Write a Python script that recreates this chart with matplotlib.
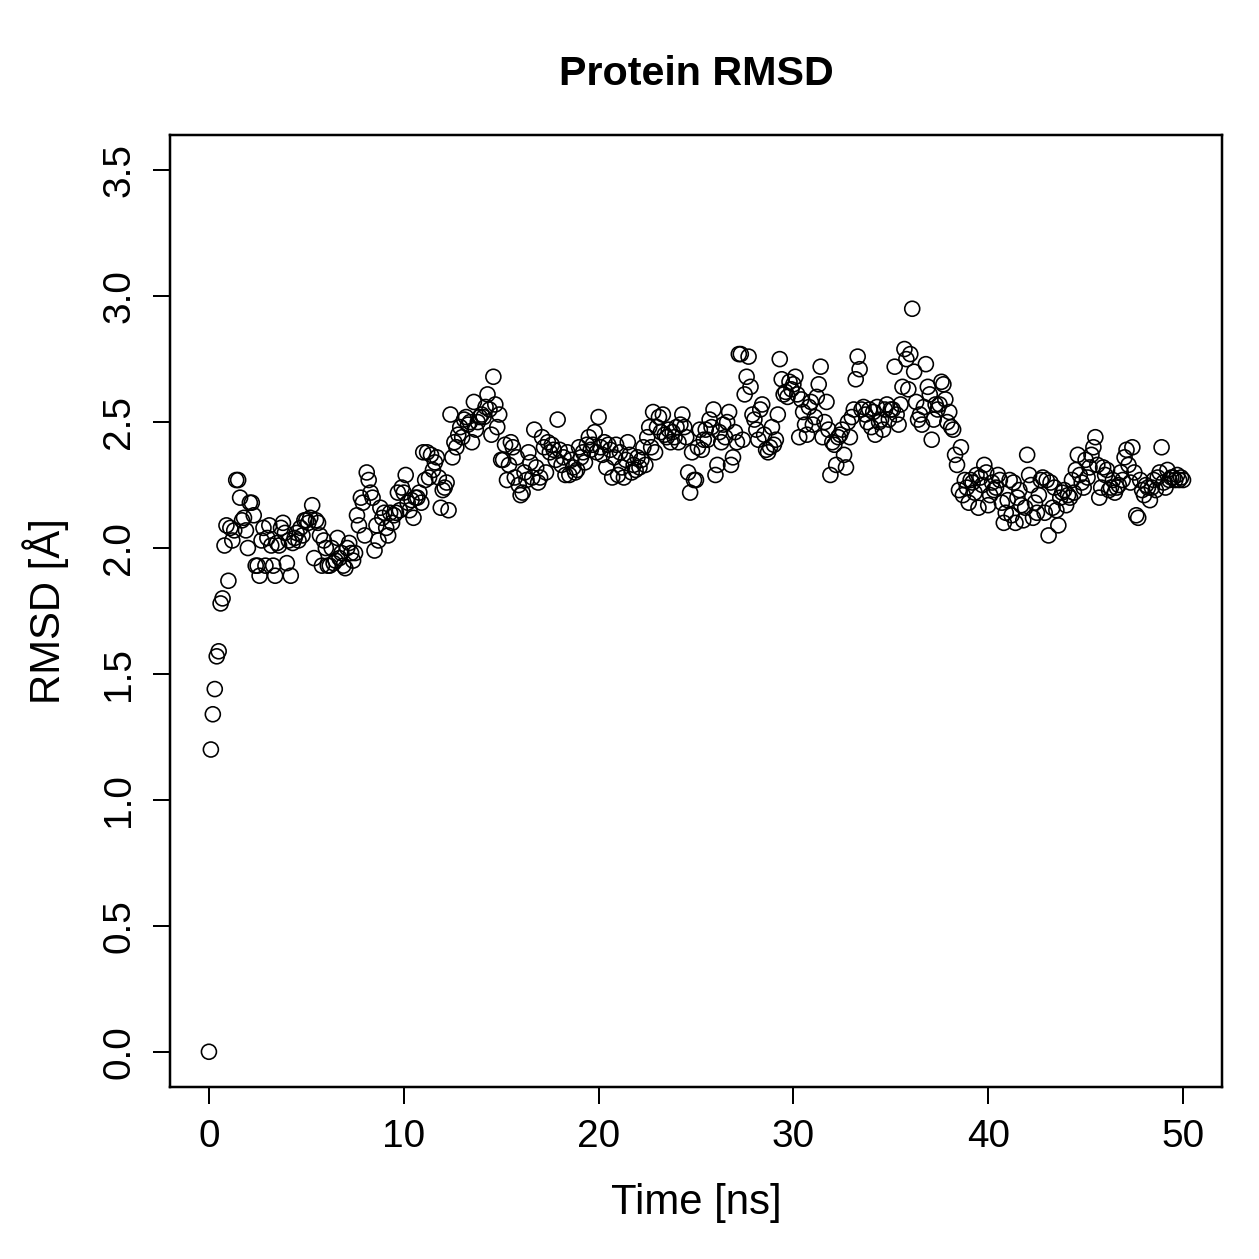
import matplotlib
matplotlib.use("Agg")
import matplotlib.pyplot as plt
import numpy as np

plt.rcParams['font.family'] = ['Liberation Sans', 'DejaVu Sans']

# RMSD every 0.1 ns, one row per ns (last row also holds t = 50.0)
rmsd = [
    0.00, 1.20, 1.34, 1.44, 1.57, 1.59, 1.78, 1.80, 2.01, 2.09,
    1.87, 2.08, 2.03, 2.07, 2.27, 2.27, 2.20, 2.11, 2.12, 2.07,
    2.00, 2.18, 2.18, 2.13, 1.93, 1.93, 1.89, 2.03, 2.08, 1.93,
    2.04, 2.09, 2.01, 1.93, 1.89, 2.02, 2.01, 2.08, 2.10, 2.06,
    1.94, 2.03, 1.89, 2.02, 2.04, 2.06, 2.03, 2.08, 2.05, 2.11,
    2.11, 2.10, 2.12, 2.17, 1.96, 2.11, 2.10, 2.05, 1.93, 2.03,
    2.00, 1.93, 1.93, 2.00, 1.94, 1.95, 2.04, 1.96, 1.98, 1.93,
    1.92, 2.00, 2.02, 1.98, 1.95, 1.98, 2.13, 2.09, 2.20, 2.18,
    2.05, 2.30, 2.27, 2.22, 2.20, 1.99, 2.09, 2.03, 2.16, 2.12,
    2.14, 2.08, 2.05, 2.14, 2.10, 2.13, 2.14, 2.22, 2.15, 2.24,
    2.22, 2.29, 2.18, 2.15, 2.19, 2.12, 2.20, 2.20, 2.22, 2.18,
    2.38, 2.27, 2.38, 2.28, 2.37, 2.31, 2.34, 2.36, 2.28, 2.16,
    2.23, 2.24, 2.26, 2.15, 2.53, 2.36, 2.42, 2.40, 2.45, 2.48,
    2.44, 2.51, 2.52, 2.49, 2.50, 2.42, 2.58, 2.47, 2.50, 2.52,
    2.53, 2.52, 2.56, 2.61, 2.55, 2.45, 2.68, 2.57, 2.48, 2.53,
    2.35, 2.35, 2.41, 2.27, 2.33, 2.42, 2.40, 2.28, 2.36, 2.25,
    2.21, 2.22, 2.30, 2.27, 2.38, 2.34, 2.28, 2.47, 2.32, 2.26,
    2.28, 2.44, 2.40, 2.30, 2.42, 2.38, 2.41, 2.39, 2.35, 2.51,
    2.39, 2.33, 2.36, 2.29, 2.38, 2.29, 2.35, 2.32, 2.30, 2.31,
    2.40, 2.36, 2.38, 2.34, 2.41, 2.44, 2.39, 2.41, 2.46, 2.38,
    2.52, 2.40, 2.37, 2.42, 2.32, 2.41, 2.39, 2.28, 2.36, 2.41,
    2.29, 2.38, 2.32, 2.28, 2.35, 2.42, 2.37, 2.30, 2.33, 2.31,
    2.36, 2.32, 2.35, 2.40, 2.33, 2.44, 2.48, 2.40, 2.54, 2.38,
    2.48, 2.52, 2.46, 2.53, 2.45, 2.44, 2.47, 2.42, 2.46, 2.44,
    2.48, 2.42, 2.49, 2.53, 2.48, 2.44, 2.30, 2.22, 2.38, 2.27,
    2.27, 2.40, 2.47, 2.39, 2.43, 2.47, 2.43, 2.51, 2.48, 2.55,
    2.29, 2.33, 2.46, 2.42, 2.49, 2.44, 2.50, 2.54, 2.33, 2.36,
    2.46, 2.42, 2.77, 2.77, 2.43, 2.61, 2.68, 2.76, 2.64, 2.53,
    2.51, 2.47, 2.43, 2.55, 2.57, 2.45, 2.39, 2.38, 2.40, 2.48,
    2.41, 2.43, 2.53, 2.75, 2.67, 2.61, 2.62, 2.60, 2.66, 2.63,
    2.65, 2.68, 2.61, 2.44, 2.59, 2.54, 2.49, 2.45, 2.56, 2.58,
    2.49, 2.52, 2.60, 2.65, 2.72, 2.44, 2.50, 2.58, 2.47, 2.29,
    2.42, 2.41, 2.33, 2.44, 2.45, 2.47, 2.37, 2.32, 2.50, 2.44,
    2.52, 2.55, 2.67, 2.76, 2.71, 2.55, 2.56, 2.53, 2.50, 2.55,
    2.48, 2.54, 2.45, 2.56, 2.50, 2.51, 2.47, 2.55, 2.57, 2.51,
    2.55, 2.55, 2.72, 2.53, 2.49, 2.57, 2.64, 2.79, 2.75, 2.63,
    2.77, 2.95, 2.70, 2.58, 2.51, 2.53, 2.49, 2.56, 2.73, 2.64,
    2.61, 2.43, 2.51, 2.57, 2.55, 2.57, 2.66, 2.65, 2.59, 2.50,
    2.54, 2.48, 2.47, 2.37, 2.33, 2.23, 2.40, 2.21, 2.27, 2.24,
    2.18, 2.27, 2.26, 2.22, 2.29, 2.16, 2.28, 2.25, 2.33, 2.30,
    2.17, 2.21, 2.26, 2.23, 2.24, 2.29, 2.27, 2.18, 2.10, 2.14,
    2.19, 2.27, 2.13, 2.26, 2.10, 2.20, 2.23, 2.17, 2.11, 2.16,
    2.37, 2.29, 2.25, 2.12, 2.18, 2.14, 2.21, 2.27, 2.28, 2.14,
    2.27, 2.05, 2.26, 2.16, 2.24, 2.15, 2.09, 2.20, 2.22, 2.23,
    2.17, 2.21, 2.20, 2.27, 2.22, 2.31, 2.37, 2.29, 2.26, 2.24,
    2.35, 2.28, 2.32, 2.37, 2.40, 2.44, 2.33, 2.20, 2.24, 2.32,
    2.29, 2.31, 2.23, 2.24, 2.27, 2.22, 2.24, 2.25, 2.30, 2.27,
    2.36, 2.39, 2.33, 2.26, 2.40, 2.30, 2.13, 2.12, 2.27, 2.23,
    2.21, 2.25, 2.24, 2.19, 2.24, 2.27, 2.23, 2.28, 2.30, 2.40,
    2.26, 2.24, 2.31, 2.27, 2.28, 2.28, 2.27, 2.29, 2.27, 2.28, 2.27,
]
time_ns = np.arange(len(rmsd)) * 0.1

xticks = [0, 10, 20, 30, 40, 50]
yticks = [0.0, 0.5, 1.0, 1.5, 2.0, 2.5, 3.0, 3.5]

fig = plt.figure(figsize=(7, 7), dpi=1259 / 7)
ax = fig.add_axes([0.135, 0.1366, 0.8356, 0.7562])

ax.scatter(time_ns, rmsd, s=36, facecolors='none', edgecolors='black', linewidths=0.65)

ax.set_xlim(-2, 52)
ax.set_ylim(-0.14, 3.64)
ax.set_xticks(xticks)
ax.set_yticks(yticks)
ax.set_yticklabels([f"{v:.1f}" for v in yticks], rotation=90, va='center')
ax.tick_params(direction='out', length=7, width=0.8, labelsize=15.5, pad=6)
for sp in ax.spines.values():
    sp.set_linewidth(1.0)

ax.set_title("Protein RMSD", fontsize=16.5, fontweight='bold', pad=20)
ax.set_xlabel("Time [ns]", fontsize=16.8, labelpad=11)
ax.set_ylabel("RMSD [Å]", fontsize=16.8, labelpad=13)

fig.savefig("out.png", dpi=1259 / 7)
